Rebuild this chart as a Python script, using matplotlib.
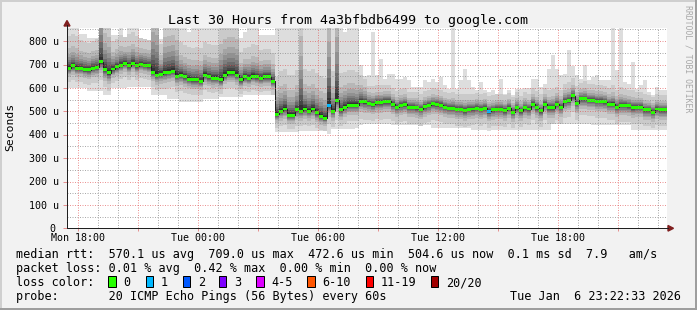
import numpy as np
import matplotlib
matplotlib.use("Agg")
import matplotlib.pyplot as plt
from matplotlib.patches import Polygon, Rectangle
from matplotlib.lines import Line2D
from matplotlib.transforms import blended_transform_factory, ScaledTranslation

plt.rcParams['font.family'] = ['DejaVu Sans Mono', 'DejaVu Sans']

# ---------------- data ----------------
title = "Last 30 Hours from 4a3bfbdb6499 to google.com"
start_hour = 17.45          # hours since Mon 00:00 (left edge of graph)
step_hours = 0.2            # 12 minute consolidation steps

# median RTT per step (microseconds)
rtt_median = [
    685, 694, 685, 685, 678, 678, 685, 688, 711, 678,
    664, 681, 690, 698, 706, 694, 706, 694, 702, 698,
    694, 668, 655, 659, 664, 668, 672, 651, 655, 647,
    638, 634, 634, 629, 655, 647, 642, 642, 634, 655,
    664, 664, 655, 634, 647, 642, 651, 647, 642, 647,
    647, 629, 488, 501, 510, 484, 484, 506, 501, 510,
    501, 510, 493, 480, 471, 527, 501, 548, 506, 518,
    527, 527, 527, 544, 540, 535, 530, 538, 538, 543,
    543, 530, 518, 526, 530, 518, 518, 516, 509, 521,
    526, 533, 530, 526, 518, 514, 514, 509, 509, 504,
    509, 510, 514, 509, 514, 500, 506, 509, 509, 504,
    514, 497, 516, 502, 516, 510, 531, 516, 502, 531,
    516, 516, 531, 518, 543, 547, 566, 535, 553, 553,
    548, 548, 543, 543, 540, 531, 531, 518, 526, 526,
    523, 516, 518, 518, 506, 506, 497, 510, 506, 506,
]
# fastest ping per step
rtt_min = [
    601, 601, 601, 601, 601, 588, 588, 588, 585, 569,
    569, 600, 600, 600, 600, 603, 603, 603, 603, 603,
    603, 569, 569, 569, 569, 554, 554, 554, 541, 541,
    541, 541, 541, 541, 554, 554, 554, 554, 560, 560,
    560, 560, 560, 560, 569, 569, 569, 569, 569, 569,
    569, 569, 413, 413, 413, 413, 413, 413, 417, 417,
    417, 417, 417, 417, 417, 405, 425, 425, 425, 425,
    425, 425, 430, 440, 445, 447, 447, 447, 447, 447,
    447, 440, 440, 440, 440, 440, 440, 440, 440, 440,
    440, 430, 430, 430, 430, 430, 430, 430, 430, 430,
    430, 420, 420, 420, 420, 415, 420, 420, 420, 420,
    420, 420, 420, 420, 420, 420, 420, 420, 420, 420,
    420, 445, 445, 445, 445, 445, 445, 445, 445, 445,
    445, 440, 440, 440, 440, 440, 440, 440, 440, 440,
    440, 420, 420, 420, 420, 420, 420, 420, 420, 420,
]
# slowest ping per step
rtt_max = [
    880, 880, 880, 829, 829, 815, 815, 815, 1400, 1100,
    1100, 825, 825, 860, 787, 880, 880, 880, 795, 795,
    795, 1300, 1300, 810, 1100, 1100, 1100, 1100, 880, 880,
    840, 880, 880, 880, 880, 880, 880, 880, 1100, 1100,
    1100, 1100, 1100, 815, 840, 880, 880, 880, 825, 825,
    825, 825, 880, 880, 880, 880, 880, 880, 1500, 880,
    880, 880, 880, 880, 880, 1500, 880, 1500, 880, 840,
    880, 880, 880, 700, 651, 654, 839, 654, 725, 640,
    661, 661, 640, 640, 647, 632, 604, 604, 604, 632,
    625, 640, 625, 647, 611, 597, 880, 597, 632, 682,
    632, 604, 590, 625, 590, 583, 590, 575, 640, 575,
    590, 568, 597, 597, 600, 600, 640, 640, 604, 618,
    683, 740, 683, 654, 661, 761, 695, 654, 640, 697,
    632, 647, 654, 632, 632, 632, 880, 676, 880, 625,
    618, 712, 597, 611, 632, 583, 568, 604, 590, 590,
]
# upper / lower spread of the bulk of the pings (2nd slowest / 2nd fastest)
spread_hi = [
    135, 135, 135, 120, 120, 115, 115, 120, 450, 250,
    250, 120, 120, 130, 110, 135, 135, 130, 110, 110,
    110, 380, 380, 130, 250, 250, 250, 250, 140, 135,
    135, 135, 140, 140, 140, 140, 140, 140, 250, 250,
    250, 250, 250, 120, 125, 135, 135, 135, 120, 120,
    120, 120, 160, 170, 170, 170, 170, 170, 520, 170,
    170, 170, 170, 170, 170, 600, 170, 600, 160, 150,
    150, 150, 140, 110, 100, 75, 80, 75, 75, 70,
    70, 70, 70, 70, 70, 65, 65, 65, 65, 65,
    65, 65, 65, 65, 65, 65, 70, 65, 65, 70,
    65, 65, 65, 65, 65, 65, 65, 65, 65, 65,
    65, 65, 65, 65, 65, 65, 70, 70, 70, 70,
    75, 80, 75, 75, 75, 80, 75, 75, 70, 75,
    70, 70, 70, 70, 70, 70, 80, 75, 80, 70,
    70, 75, 65, 65, 70, 65, 65, 65, 65, 65,
]
spread_lo = [
    60, 60, 60, 60, 60, 65, 65, 65, 75, 75,
    75, 60, 60, 60, 60, 60, 60, 60, 60, 60,
    60, 65, 65, 65, 70, 70, 70, 70, 70, 70,
    65, 65, 65, 60, 65, 65, 65, 60, 60, 60,
    65, 65, 65, 60, 60, 60, 60, 60, 60, 60,
    60, 60, 60, 65, 70, 60, 60, 70, 65, 70,
    65, 70, 65, 60, 55, 80, 70, 85, 70, 70,
    70, 70, 70, 75, 75, 70, 70, 70, 75, 75,
    75, 70, 70, 70, 70, 70, 70, 70, 70, 70,
    70, 70, 70, 70, 70, 70, 70, 70, 70, 70,
    70, 70, 70, 70, 70, 70, 70, 70, 70, 70,
    70, 70, 70, 70, 70, 70, 70, 70, 70, 70,
    70, 70, 70, 70, 70, 70, 70, 70, 70, 70,
    70, 70, 70, 70, 70, 70, 70, 70, 70, 70,
    70, 70, 70, 70, 70, 70, 70, 70, 70, 70,
]
# lost pings (out of 20) per step
loss_count = [0] * 150
loss_count[65] = 1
loss_count[105] = 1

tick_hours = [18, 21, 24, 27, 30, 33, 36, 39, 42, 45]
tick_labels = ["Mon 18:00", "", "Tue 00:00", "", "Tue 06:00", "",
               "Tue 12:00", "", "Tue 18:00", ""]
y_ticks = [0, 100, 200, 300, 400, 500, 600, 700, 800]
y_tick_labels = ["0", "100 u", "200 u", "300 u", "400 u", "500 u",
                 "600 u", "700 u", "800 u"]

loss_bins = ["0", "1", "2", "3", "4-5", "6-10", "11-19", "20/20"]
loss_bin_max = [0, 1, 2, 3, 5, 10, 19, 20]
loss_colors = ["#26ff00", "#00b8ff", "#0059ff", "#7e00ff",
               "#dd00ff", "#ff5500", "#ff0000", "#a10000"]

legend_line1 = ("median rtt:  570.1 us avg  709.0 us max  472.6 us min  "
                "504.6 us now  0.1 ms sd  7.9   am/s")
legend_line2 = "packet loss: 0.01 % avg  0.42 % max  0.00 % min  0.00 % now"
legend_line4 = "probe:       20 ICMP Echo Pings (56 Bytes) every 60s"
stamp = "Tue Jan  6 23:22:33 2026"

# ---------------- style ----------------
W, H = 697, 310
BACK = "#f2f2f2"
GRID = (0.56, 0.56, 0.56, 0.75)
MGRID = (0.87, 0.31, 0.31, 0.60)
ARROW = "#801f1f"
AXIS = "#202020"
PX = 0.72  # one pixel in points


def fx(px):
    return px / W


def fy(py):
    return 1 - py / H


fig = plt.figure(figsize=(W / 100, H / 100), dpi=100)
fig.patch.set_facecolor(BACK)

y_top = 855
ax = fig.add_axes([fx(67), fy(228.3), 600 / W, 200 / H])
ax.set_facecolor("white")
n = len(rtt_median)
ax.set_xlim(start_hour, start_hour + 150 * step_hours)
ax.set_ylim(0, y_top)
for s in ax.spines.values():
    s.set_visible(False)

med = np.array(rtt_median, float)
edges = start_hour + step_hours * np.arange(n + 1)


def ext(a):
    a = np.asarray(a, float)
    return np.append(a, a[-1])


# smoke: outer (min..max) lightest, inner bands darker
grays = [221, 202, 183, 164, 145, 126, 107, 88, 69, 50]
band_frac = [1.0, 0.62, 0.45, 0.34, 0.26, 0.19, 0.135, 0.09, 0.05]
ax.fill_between(edges, ext(rtt_min), ext(rtt_max), step='post',
                color="#dddddd", lw=0, zorder=1)
shi = np.array(spread_hi, float)
slo = np.array(spread_lo, float)
for g, f in zip(grays[1:], band_frac):
    ax.fill_between(edges, ext(med - slo * f), ext(med + shi * f), step='post',
                    color="#%02x%02x%02x" % (g, g, g), lw=0, zorder=1)

# median line + loss-coloured marks
ax.step(edges, ext(med), where='post', color=AXIS, lw=PX, zorder=3)
sw = 6.4
cols = []
for c in loss_count:
    for bmax, col in zip(loss_bin_max, loss_colors):
        if c <= bmax:
            cols.append(col)
            break
ax.bar(edges[:-1], 2 * sw, bottom=med - sw, width=step_hours, align='edge',
       color=cols, lw=0, zorder=4)

# grid
for h in range(18, 48):
    major = (h - 18) % 3 == 0
    ax.axvline(h, color=MGRID if major else GRID, lw=PX,
               ls=(0, (1, 1.5)), zorder=5)
for v in range(50, y_top, 50):
    major = v % 100 == 0
    ax.axhline(v, color=MGRID if major else GRID, lw=PX,
               ls=(0, (1, 1.5)), zorder=5)

# ticks and labels
ax.set_xticks(tick_hours)
ax.set_xticklabels(tick_labels)
ax.set_yticks(y_ticks)
ax.set_yticklabels([])
ax.tick_params(axis='x', length=2.2, width=PX, color=MGRID, pad=1.2,
               labelsize=7.2, labelcolor='black')
ax.tick_params(axis='y', length=2.9, width=PX, color=MGRID)

trans = blended_transform_factory(fig.transFigure, ax.transData) + \
    ScaledTranslation(0, -3.6 / 100, fig.dpi_scale_trans)
for v, lab in zip(y_ticks, y_tick_labels):
    xr = 59 if lab.endswith("u") else 55
    fig.text(fx(xr), v, lab, transform=trans, ha='right', va='baseline',
             fontsize=7.2)

# axes with arrows
fig.add_artist(Line2D([fx(67), fx(668)], [fy(228.3), fy(228.3)],
                      color=AXIS, lw=PX, transform=fig.transFigure))
fig.add_artist(Line2D([fx(67), fx(67)], [fy(228.3), fy(25)],
                      color=AXIS, lw=PX, transform=fig.transFigure))
fig.add_artist(Polygon([[fx(64), fy(26)], [fx(70), fy(26)], [fx(67), fy(20.5)]],
                       closed=True, color=ARROW, transform=fig.transFigure))
fig.add_artist(Polygon([[fx(668), fy(225.5)], [fx(668), fy(231.1)],
                        [fx(673.5), fy(228.3)]],
                       closed=True, color=ARROW, transform=fig.transFigure))

# texts
fig.text(fx(348), fy(24), title, ha='center', va='baseline', fontsize=9.6)
fig.text(fx(10), fy(127), "Seconds", rotation=90, ha='center', va='center',
         fontsize=8.2)
fig.text(fx(688), fy(5), "RRDTOOL / TOBI OETIKER", rotation=270,
         ha='center', va='top', fontsize=5.9, color='#a8a8a8')

fig.text(fx(16), fy(258), legend_line1, va='baseline', fontsize=8.5)
fig.text(fx(16), fy(272), legend_line2, va='baseline', fontsize=8.5)
fig.text(fx(16), fy(286), "loss color:", va='baseline', fontsize=8.5)
fig.text(fx(16), fy(300), legend_line4, va='baseline', fontsize=8.5)
fig.text(fx(680.5), fy(300), stamp, ha='right', va='baseline', fontsize=8.5)

box_x = [108.3, 145.7, 182.7, 219, 256.3, 307.3, 365.7, 430.7]
for bx, lab, col in zip(box_x, loss_bins, loss_colors):
    fig.add_artist(Rectangle((fx(bx), fy(287.3)), 7.4 / W, 11.5 / H,
                             facecolor=col, edgecolor='black', lw=PX,
                             transform=fig.transFigure))
    fig.text(fx(bx + 15), fy(286), lab, va='baseline', fontsize=8.5)

# frame shading
fig.add_artist(Rectangle((0, fy(2)), 1, 2 / H, color="#cfcfcf",
                         transform=fig.transFigure, lw=0))
fig.add_artist(Rectangle((0, 0), 2 / W, 1, color="#cfcfcf",
                         transform=fig.transFigure, lw=0))
fig.add_artist(Rectangle((0, 0), 1, 2 / H, color="#9e9e9e",
                         transform=fig.transFigure, lw=0))
fig.add_artist(Rectangle((fx(695), 0), 2 / W, 1, color="#9e9e9e",
                         transform=fig.transFigure, lw=0))

fig.savefig("out.png", dpi=100, facecolor=BACK)
